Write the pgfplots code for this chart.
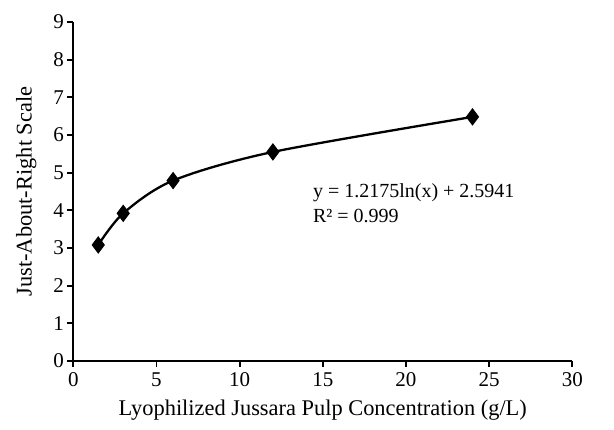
\documentclass[border=0pt]{standalone}
\usepackage{fontspec}
\setmainfont{Liberation Serif}
\usepackage{pgfplots}
\pgfplotsset{compat=1.18}

\begin{document}
\begin{tikzpicture}
\begin{axis}[
  scale only axis,
  width=499pt,height=339pt,
  xmin=0,xmax=30,ymin=0,ymax=9,
  xtick={0,5,...,30},ytick={0,1,...,9},
  axis x line=bottom,axis y line=left,
  axis line style={-,line width=2pt,black},
  tick align=outside,
  major tick length=6pt,
  tick style={line width=1.8pt,black},
  /pgf/number format/assume math mode=true,
  ticklabel style={font=\fontsize{21}{24}\selectfont},
  xticklabel style={yshift=-2pt},
  xlabel={Lyophilized Jussara Pulp Concentration (g/L)},
  ylabel={Just-About-Right Scale},
  label style={font=\fontsize{22.4}{26}\selectfont},
  xlabel style={yshift=-6pt},
  ylabel style={yshift=10pt},
  clip=false,
]
\addplot[black,line width=2.3pt,smooth,mark=diamond*,mark size=8pt,
  mark options={fill=black,line width=1pt}]
  coordinates {(1.5,3.08) (3,3.92) (6,4.79) (12,5.55) (24,6.48)};
\node[anchor=west,align=left,font=\fontsize{20}{25}\selectfont,inner sep=0pt]
  at (axis cs:14.4,4.2) {y = 1.2175ln(x) + 2.5941\\R² = 0.999};
\end{axis}
\path[use as bounding box] (current axis.origin) ++(-73.3pt,-69pt) rectangle ++(614pt,430pt);
\end{tikzpicture}
\end{document}
